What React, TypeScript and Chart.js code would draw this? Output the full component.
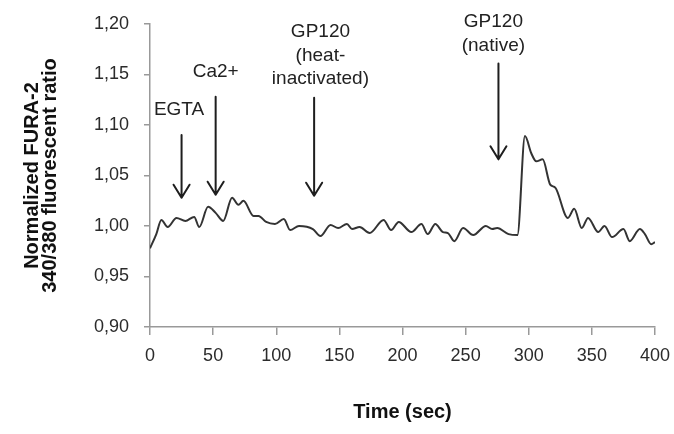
import React, { useEffect, useRef } from "react";
import { Chart, registerables } from "chart.js";

Chart.register(...registerables);

// Time (sec)
const times = [
  0, 5, 9, 14, 21, 28, 35, 39, 46, 52, 58, 65, 70, 74, 82, 86, 92, 99, 106, 111,
  118, 129, 135, 143, 149, 156, 160, 166, 174, 185, 191, 197, 207, 215, 220, 226,
  232, 236, 241, 248, 256, 266, 271, 275, 284, 291, 297, 302, 306, 311, 317, 321,
  331, 336, 342, 347, 355, 360, 366, 375, 380, 388, 392, 397, 400,
];
// Normalized FURA-2 340/380 ratio
const ratio = [
  0.978, 0.992, 1.006, 0.999, 1.008, 1.005, 1.009, 0.999, 1.019, 1.013, 1.005,
  1.028, 1.021, 1.025, 1.01, 1.01, 1.004, 1.002, 1.007, 0.996, 1.0, 0.997, 0.99,
  1.001, 0.998, 1.002, 0.997, 0.999, 0.993, 1.006, 0.996, 1.004, 0.994, 1.002,
  0.992, 1.002, 0.994, 0.993, 0.985, 0.998, 0.991, 1.0, 0.997, 0.998, 0.992,
  0.991, 1.089, 1.072, 1.064, 1.066, 1.041, 1.038, 1.008, 1.017, 0.998, 1.008,
  0.994, 1.0, 0.989, 0.997, 0.985, 0.997, 0.992, 0.982, 0.984,
];

// Annotations (data units)
const arrowX = [25, 52, 130, 276];
const arrowTop = [1.09, 1.128, 1.127, 1.161];
const arrowTip = [1.028, 1.031, 1.03, 1.066];
const labelLines = [["EGTA"], ["Ca2+"], ["GP120", "(heat-", "inactivated)"], ["GP120", "(native)"]];
const labelX = [23, 52, 135, 272];
const labelY = [1.115, 1.153, 1.192, 1.202];

const xTicks = [0, 50, 100, 150, 200, 250, 300, 350, 400];
const yTicks = [0.9, 0.95, 1.0, 1.05, 1.1, 1.15, 1.2];

const annotationPlugin = {
  id: "arrows",
  afterDatasetsDraw(chart: any) {
    const { ctx, scales } = chart;
    const xs = scales.x;
    const ys = scales.y;
    ctx.save();
    ctx.strokeStyle = "#1e1e1e";
    ctx.lineWidth = 2;
    ctx.lineCap = "round";
    ctx.lineJoin = "round";
    for (let i = 0; i < arrowX.length; i++) {
      const px = xs.getPixelForValue(arrowX[i]);
      const y0 = ys.getPixelForValue(arrowTop[i]);
      const y1 = ys.getPixelForValue(arrowTip[i]);
      ctx.beginPath();
      ctx.moveTo(px, y0);
      ctx.lineTo(px, y1);
      ctx.moveTo(px - 8, y1 - 13);
      ctx.lineTo(px, y1);
      ctx.lineTo(px + 8, y1 - 13);
      ctx.stroke();
    }
    ctx.fillStyle = "#222";
    ctx.font = '19px "Liberation Sans", Arial, sans-serif';
    ctx.textAlign = "center";
    ctx.textBaseline = "middle";
    for (let i = 0; i < labelLines.length; i++) {
      const px = xs.getPixelForValue(labelX[i]);
      const py = ys.getPixelForValue(labelY[i]);
      labelLines[i].forEach((t, j) => ctx.fillText(t, px, py + j * 23.4));
    }
    ctx.restore();
  },
};

export default function App() {
  const ref = useRef<HTMLCanvasElement>(null);
  useEffect(() => {
    document.body.style.margin = "0";
    const canvas = ref.current!;
    const chart = new Chart(canvas, {
      type: "line",
      data: {
        datasets: [
          {
            data: times.map((t, i) => ({ x: t, y: ratio[i] })),
            borderColor: "#333",
            borderWidth: 2,
            pointRadius: 0,
            cubicInterpolationMode: "monotone",
            fill: false,
          },
        ],
      },
      options: {
        animation: false,
        responsive: false,
        layout: { padding: { top: 24, right: 19, bottom: 0, left: 0 } },
        plugins: { legend: { display: false }, tooltip: { enabled: false } },
        scales: {
          x: {
            type: "linear",
            min: 0,
            max: 400,
            afterFit: (s: any) => {
              s.height = 107;
              s.paddingLeft = 0;
              s.paddingRight = 0;
            },
            afterBuildTicks: (s: any) => {
              s.ticks = xTicks.map((v) => ({ value: v }));
            },
            ticks: {
              color: "#2b2b2b",
              font: { family: '"Liberation Sans", Arial, sans-serif', size: 18 },
              padding: 10,
              maxRotation: 0,
            },
            grid: { display: true, drawOnChartArea: false, drawTicks: true, tickLength: 8, color: "#999", lineWidth: 1.5 },
            border: { display: true, color: "#999", width: 1.5 },
            title: {
              display: true,
              text: "Time (sec)",
              color: "#111",
              font: { family: '"Liberation Sans", Arial, sans-serif', size: 20, weight: "bold", lineHeight: 1.2 },
              padding: { top: 0, bottom: 10 },
            },
          },
          y: {
            type: "linear",
            min: 0.9,
            max: 1.2,
            afterFit: (s: any) => {
              s.width = 150;
              s.paddingTop = 0;
              s.paddingBottom = 0;
            },
            afterBuildTicks: (s: any) => {
              s.ticks = yTicks.map((v) => ({ value: v }));
            },
            ticks: {
              color: "#2b2b2b",
              font: { family: '"Liberation Sans", Arial, sans-serif', size: 18 },
              padding: 15,
              callback: (v: any) => Number(v).toFixed(2).replace(".", ","),
            },
            grid: { display: true, drawOnChartArea: false, drawTicks: true, tickLength: 6, color: "#999", lineWidth: 1.5 },
            border: { display: true, color: "#999", width: 1.5 },
            title: {
              display: true,
              text: ["Normalized FURA-2", "340/380 fluorescent ratio"],
              color: "#111",
              font: { family: '"Liberation Sans", Arial, sans-serif', size: 20, weight: "bold", lineHeight: 0.9 },
              padding: { top: 23, bottom: 0 },
            },
          },
        },
      },
      plugins: [annotationPlugin],
    });
    return () => chart.destroy();
  }, []);
  return (
    <div style={{ width: 674, height: 434 }}>
      <canvas ref={ref} width={674} height={434} />
    </div>
  );
}
